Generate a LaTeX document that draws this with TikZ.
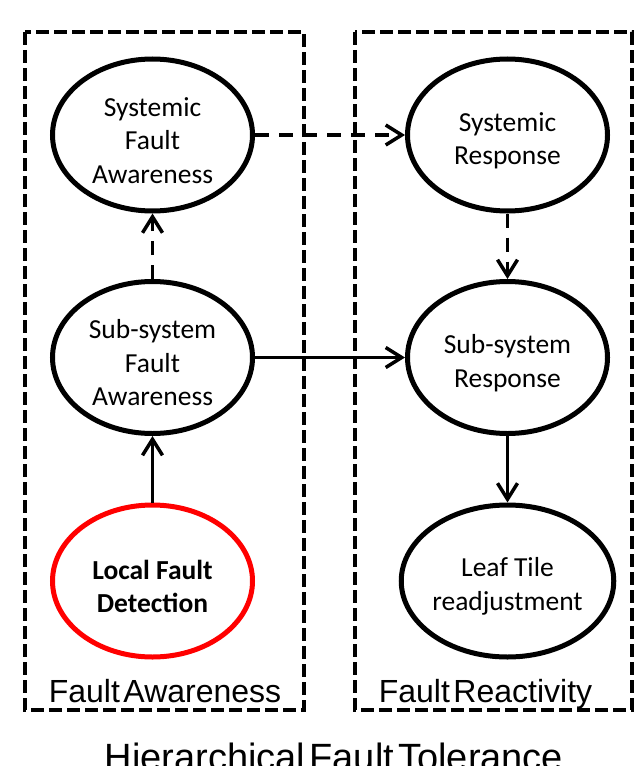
\documentclass[tikz,border=0pt]{standalone}
\usepackage{fontspec}
\setmainfont{Carlito}
\newfontfamily\labelfont[WordSpace=0.4]{Liberation Sans}
\usepackage{xcolor}
\definecolor{faultred}{RGB}{255, 0, 0}
\usetikzlibrary{arrows.meta, positioning, shapes.geometric}
% pushes the first line down a little, as in the drawing
\newcommand{\stagestrut}{\rule{0pt}{30bp}}

\begin{document}
\begin{tikzpicture}[x=1bp, y=-1bp, >={Straight Barb[length=16bp, width=20bp]},
    stage/.style={ellipse, draw, line width=5bp, minimum width=200bp, minimum height=152bp,
        inner sep=0pt, align=center, font=\fontsize{27.5bp}{33.5bp}\selectfont},
    flow/.style={->, line width=3.5bp},
    weakflow/.style={flow, dash pattern=on 14bp off 10bp},
    groupbox/.style={line width=4.5bp, dash pattern=on 13bp off 5bp},
    boxlabel/.style={anchor=base, font=\labelfont\fontsize{32bp}{38bp}\selectfont}]
    \useasboundingbox (0,0) rectangle (634,766);
    \clip (0,0) rectangle (634,766);

    % the two groups
    \draw[groupbox] (25,32) rectangle (304,710);
    \draw[groupbox] (355,32) rectangle (632,710);
    \node[boxlabel] (awarelabel) at (165,702) {Fault Awareness};
    \node[boxlabel] (reactlabel) at (485.5,702) {Fault Reactivity};

    \node[stage] (sysaware) at (152.5,135) {\stagestrut Systemic\\Fault\\Awareness};
    \node[stage] (subaware) at (152.5,357.5) {\stagestrut Sub-system\\Fault\\Awareness};
    \node[stage, draw=faultred, font=\fontsize{27.5bp}{33.5bp}\selectfont\bfseries] (localdetect) at (152.5,581) {\stagestrut Local Fault\\Detection};
    \node[stage] (sysresp) at (507.5,135) {\stagestrut Systemic\\Response};
    \node[stage] (subresp) at (507.5,357.5) {\stagestrut Sub-system\\Response};
    \node[stage] (leafadjust) at (507.5,581) {\stagestrut Leaf Tile\\readjustment};

    \draw[weakflow] (sysaware) -- (sysresp);
    \draw[weakflow] (subaware) -- (sysaware);
    \draw[weakflow] (sysresp) -- (subresp);
    \draw[flow] (subaware) -- (subresp);
    \draw[flow] (localdetect) -- (subaware);
    \draw[flow] (subresp) -- (leafadjust);

    \node[anchor=base, font=\labelfont\fontsize{38bp}{44bp}\selectfont] (title) at (334,770) {Hierarchical Fault Tolerance};
\end{tikzpicture}
\end{document}
